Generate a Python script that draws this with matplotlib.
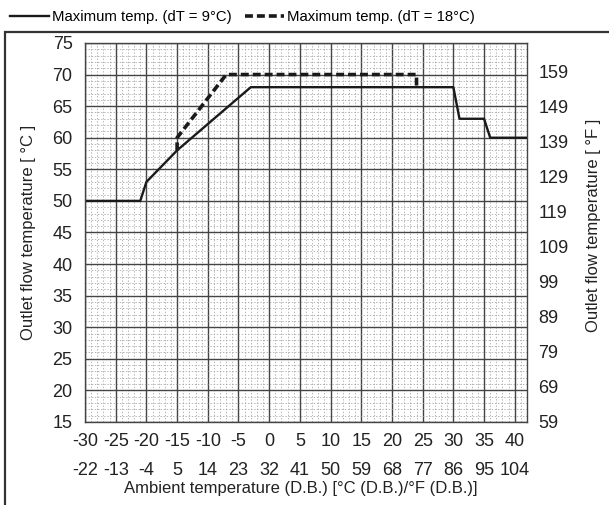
import numpy as np
import matplotlib
matplotlib.use('Agg')
import matplotlib.pyplot as plt
from matplotlib.patches import Rectangle

plt.rcParams['font.family'] = ['Liberation Sans', 'DejaVu Sans']
plt.rcParams['font.size'] = 13

# data
solid_x = [-30, -21, -20, -15, -3, 30, 31, 35, 36, 42]
solid_y = [50, 50, 53, 58, 68, 68, 63, 63, 60, 60]
dash_x = [-15, -15, -7, 24, 24]
dash_y = [58, 60, 70, 70, 68]
xticks_c = [-30, -25, -20, -15, -10, -5, 0, 5, 10, 15, 20, 25, 30, 35, 40]
xticks_f = [-22, -13, -4, 5, 14, 23, 32, 41, 50, 59, 68, 77, 86, 95, 104]
yticks_c = [15, 20, 25, 30, 35, 40, 45, 50, 55, 60, 65, 70, 75]
yticks_f = [59, 69, 79, 89, 99, 109, 119, 129, 139, 149, 159]
label_solid = 'Maximum temp. (dT = 9°C)'
label_dash = 'Maximum temp. (dT = 18°C)'

fig = plt.figure(figsize=(6.09, 5.05), dpi=100)
ax = fig.add_axes([0.1396, 0.1644, 0.7258, 0.7505])

# outer frame
fig.patches.append(Rectangle((5/609, -0.1), 1.2, 1 - 32/505 + 0.1, transform=fig.transFigure,
                             fill=False, edgecolor='#333333', linewidth=1.6))

ax.set_xlim(-30, 42)
ax.set_ylim(15, 75)
ax.set_xticks(xticks_c)
ax.set_xticklabels([f'{c}\n{f}' for c, f in zip(xticks_c, xticks_f)])
plt.setp(ax.get_xticklabels(), linespacing=1.95, color='#222222')
ax.set_yticks(yticks_c)
plt.setp(ax.get_yticklabels(), color='#222222')
ax.set_xticks(np.arange(-30, 43, 1), minor=True)
ax.set_yticks(np.arange(15, 76, 1), minor=True)
ax.tick_params(which='both', length=0)
ax.tick_params(axis='x', pad=8)
ax.tick_params(axis='y', pad=9)

ax.grid(which='minor', color='#999999', linewidth=0.5, linestyle=(0, (2, 2.5)))
ax.grid(which='major', color='#444444', linewidth=1.0, linestyle='-')
ax.set_axisbelow(True)
for s in ax.spines.values():
    s.set_color('#444444')
    s.set_linewidth(1.0)

l1, = ax.plot(solid_x, solid_y, color='#1a1a1a', linewidth=1.7, label=label_solid)
l2, = ax.plot(dash_x, dash_y, color='#1a1a1a', linewidth=2.6, linestyle=(0, (2.2, 1.1)),
              label=label_dash)

ax.set_ylabel('Outlet flow temperature [ °C ]', color='#222222', fontsize=12)
ax.yaxis.set_label_coords(-0.11, 0.5)
ax.set_xlabel('Ambient temperature (D.B.) [°C (D.B.)/°F (D.B.)]', color='#222222', fontsize=12)
ax.xaxis.set_label_coords(0.489, -0.156)

ax2 = ax.twinx()
ax2.set_ylim(15, 75)
ax2.set_yticks([(f - 32) / 1.8 for f in yticks_f])
ax2.set_yticklabels([str(f) for f in yticks_f], color='#222222')
ax2.tick_params(length=0, pad=8)
for s in ax2.spines.values():
    s.set_visible(False)
ax2.set_ylabel('Outlet flow temperature [ °F ]', color='#222222', fontsize=12)
ax2.yaxis.set_label_coords(1.134, 0.52)

fig.legend(handles=[l1, l2], loc='upper left', bbox_to_anchor=(0.0, 1.0), ncol=2,
           frameon=False, handlelength=2.6, handletextpad=0.2, columnspacing=0.9,
           fontsize=10.7, borderaxespad=0.3)

fig.savefig('out.png', dpi=100)
